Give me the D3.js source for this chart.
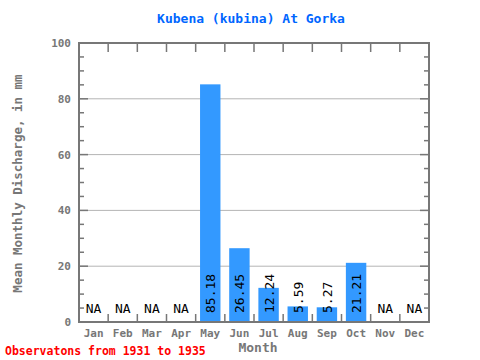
<!DOCTYPE html>
<html><head><meta charset="utf-8">
<script src="https://cdn.jsdelivr.net/npm/d3@7/dist/d3.min.js"></script>
<style>body{margin:0;background:#fff}svg{display:block}</style>
</head><body>
<script>
const months = ["Jan","Feb","Mar","Apr","May","Jun","Jul","Aug","Sep","Oct","Nov","Dec"];
const values = [null,null,null,null,85.18,26.45,12.24,5.59,5.27,21.21,null,null];
const yTicks = [0,20,40,60,80,100];
const title = "Kubena (kubina) At Gorka";
const yLabel = "Mean Monthly Discharge, in mm";
const xLabel = "Month";
const footer = "Observatons from 1931 to 1935";

const W=480,H=360, L=79,R=429,T=43,B=322;
const mono = "'DejaVu Sans Mono', 'Liberation Mono', monospace";
const axisColor = "#777";
const svg = d3.select("body").append("svg").attr("width",W).attr("height",H);

const x = d3.scaleBand().domain(months).range([L,R]).paddingInner(0).paddingOuter(0);
const y = d3.scaleLinear().domain([0,100]).range([B,T]);

// gridlines
svg.append("g").selectAll("line").data(yTicks.filter(d=>d>0&&d<100)).join("line")
  .attr("x1",L).attr("x2",R).attr("y1",d=>y(d)).attr("y2",d=>y(d))
  .attr("stroke","#b4b4b4").attr("stroke-width",1);

// bars
const bw = x.bandwidth()*0.7;
svg.append("g").selectAll("rect").data(months.map((m,i)=>({m,v:values[i]})).filter(d=>d.v!=null)).join("rect")
  .attr("x",d=>x(d.m)+(x.bandwidth()-bw)/2).attr("width",bw)
  .attr("y",d=>y(d.v)).attr("height",d=>y(0)-y(d.v))
  .attr("fill","#3399ff");

// minor ticks left/right every 5
const minor = d3.range(5,100,5);
const tg = svg.append("g").attr("stroke",axisColor).attr("stroke-width",1.5);
minor.forEach(d=>{
  const len = d%20===0 ? 9 : 5;
  tg.append("line").attr("x1",L).attr("x2",L+len).attr("y1",y(d)).attr("y2",y(d));
  tg.append("line").attr("x1",R).attr("x2",R-len).attr("y1",y(d)).attr("y2",y(d));
});
// month boundary ticks top & bottom
months.slice(1).forEach(m=>{
  const xx = x(m);
  tg.append("line").attr("x1",xx).attr("x2",xx).attr("y1",T).attr("y2",T+9);
  tg.append("line").attr("x1",xx).attr("x2",xx).attr("y1",B).attr("y2",B-8);
});

// frame
svg.append("rect").attr("x",L).attr("y",T).attr("width",R-L).attr("height",B-T)
  .attr("fill","none").attr("stroke",axisColor).attr("stroke-width",2);

// y tick labels
svg.append("g").selectAll("text").data(yTicks).join("text")
  .attr("x",L-8).attr("y",d=>y(d)+4).attr("text-anchor","end")
  .attr("font-family",mono).attr("font-weight","bold").attr("font-size",11)
  .attr("fill",axisColor).text(d=>d);

// month labels
svg.append("g").selectAll("text").data(months).join("text")
  .attr("x",d=>x(d)+x.bandwidth()/2).attr("y",337).attr("text-anchor","middle")
  .attr("font-family",mono).attr("font-weight","bold").attr("font-size",11)
  .attr("fill",axisColor).text(d=>d);

// value labels
months.forEach((m,i)=>{
  const cx = x(m)+x.bandwidth()/2;
  if(values[i]==null){
    svg.append("text").attr("x",cx).attr("y",313).attr("text-anchor","middle")
      .attr("font-family",mono).attr("font-size",13).attr("fill","#000").text("NA");
  } else {
    svg.append("text").attr("transform",`translate(${cx+5},313) rotate(-90)`)
      .attr("text-anchor","start")
      .attr("font-family",mono).attr("font-size",13).attr("fill","#000").text(values[i].toFixed(2));
  }
});

// title
svg.append("text").attr("x",251).attr("y",23).attr("text-anchor","middle")
  .attr("font-family",mono).attr("font-weight","bold").attr("font-size",13)
  .attr("fill","#0066ff").text(title);

// y label
svg.append("text").attr("transform",`translate(22,${(T+B)/2+1}) rotate(-90)`).attr("text-anchor","middle")
  .attr("font-family",mono).attr("font-weight","bold").attr("font-size",12.5)
  .attr("fill",axisColor).text(yLabel);

// x label
svg.append("text").attr("x",258).attr("y",352).attr("text-anchor","middle")
  .attr("font-family",mono).attr("font-weight","bold").attr("font-size",13)
  .attr("fill",axisColor).text(xLabel);

// footer
svg.append("text").attr("x",5).attr("y",355)
  .attr("font-family",mono).attr("font-weight","bold").attr("font-size",11.5)
  .attr("fill","#ff0000").text(footer);
</script>
</body></html>
